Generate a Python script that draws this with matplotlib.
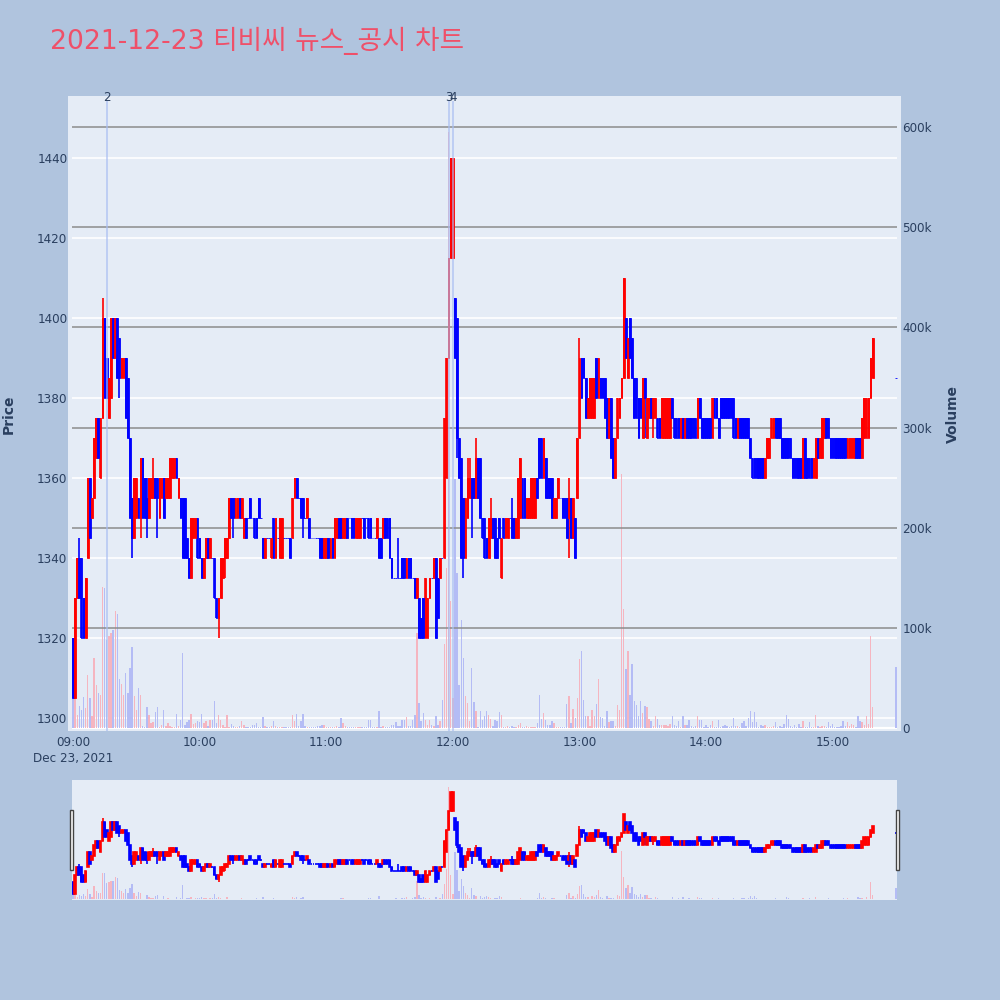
import matplotlib as mpl
mpl.use('Agg')
import matplotlib.pyplot as plt
from matplotlib.patches import Rectangle
import numpy as np

plt.rcParams['font.family'] = ['DejaVu Sans', 'Noto Sans CJK KR']

TITLE = '2021-12-23 티비씨 뉴스_공시 차트'
BG = '#B0C4DE'
PLOT_BG = '#E5ECF6'
TEXT = '#2a3f5f'
UP = '#ff0000'
DOWN = '#0000ff'

# minutes after 09:00
minutes = list(range(380)) + [390]

opens = [
    1320, 1305, 1330, 1340, 1340, 1330, 1320, 1340, 1360, 1350,
    1355, 1365, 1375, 1360, 1375, 1400, 1390, 1375, 1380, 1400,
    1390, 1400, 1395, 1385, 1385, 1390, 1385, 1370, 1355, 1345,
    1350, 1355, 1350, 1365, 1360, 1355, 1350, 1355, 1355, 1360,
    1360, 1350, 1355, 1360, 1355, 1355, 1355, 1360, 1360, 1365,
    1355, 1355, 1355, 1355, 1345, 1340, 1335, 1345, 1345, 1350,
    1345, 1340, 1335, 1340, 1345, 1340, 1340, 1340, 1330, 1325,
    1330, 1335, 1340, 1340, 1345, 1355, 1355, 1350, 1350, 1355,
    1350, 1345, 1350, 1350, 1355, 1350, 1350, 1350, 1355, 1350,
    1345, 1340, 1345, 1345, 1340, 1350, 1340, 1345, 1340, 1340,
    1345, 1345, 1345, 1345, 1345, 1355, 1360, 1355, 1355, 1355,
    1350, 1350, 1350, 1345, 1345, 1345, 1345, 1345, 1345, 1340,
    1340, 1345, 1340, 1345, 1340, 1345, 1350, 1350, 1345, 1345,
    1350, 1350, 1350, 1350, 1345, 1345, 1345, 1350, 1350, 1350,
    1350, 1350, 1345, 1345, 1345, 1345, 1345, 1345, 1350, 1350,
    1350, 1340, 1335, 1335, 1335, 1335, 1340, 1340, 1335, 1340,
    1340, 1335, 1335, 1330, 1330, 1325, 1330, 1320, 1320, 1330,
    1335, 1335, 1340, 1335, 1335, 1340, 1340, 1360, 1390, 1415,
    1415, 1405, 1400, 1370, 1365, 1355, 1340, 1350, 1355, 1360,
    1360, 1355, 1365, 1365, 1350, 1350, 1345, 1340, 1345, 1350,
    1350, 1345, 1350, 1335, 1350, 1345, 1345, 1350, 1350, 1350,
    1345, 1345, 1350, 1360, 1360, 1350, 1350, 1350, 1350, 1350,
    1360, 1370, 1370, 1360, 1365, 1360, 1360, 1360, 1350, 1350,
    1355, 1355, 1355, 1355, 1355, 1350, 1355, 1345, 1350, 1355,
    1370, 1390, 1390, 1385, 1375, 1375, 1375, 1375, 1390, 1380,
    1385, 1385, 1385, 1380, 1370, 1380, 1370, 1360, 1370, 1375,
    1380, 1385, 1400, 1385, 1400, 1395, 1385, 1385, 1380, 1380,
    1370, 1385, 1370, 1375, 1380, 1375, 1375, 1375, 1375, 1370,
    1370, 1370, 1370, 1370, 1380, 1375, 1375, 1375, 1370, 1375,
    1370, 1375, 1375, 1375, 1375, 1375, 1370, 1380, 1375, 1375,
    1375, 1375, 1375, 1370, 1380, 1380, 1375, 1380, 1380, 1380,
    1380, 1380, 1380, 1380, 1375, 1370, 1375, 1375, 1375, 1375,
    1375, 1370, 1365, 1365, 1365, 1365, 1365, 1365, 1360, 1365,
    1365, 1370, 1370, 1375, 1375, 1375, 1370, 1370, 1370, 1370,
    1370, 1365, 1365, 1365, 1365, 1365, 1360, 1370, 1365, 1365,
    1365, 1360, 1360, 1370, 1365, 1365, 1370, 1375, 1375, 1370,
    1370, 1370, 1370, 1370, 1370, 1370, 1370, 1365, 1365, 1365,
    1365, 1370, 1370, 1370, 1365, 1370, 1370, 1370, 1380, 1385,
    1385,
]

closes = [
    1305, 1330, 1340, 1330, 1320, 1320, 1335, 1360, 1345, 1355,
    1370, 1375, 1365, 1375, 1400, 1380, 1380, 1385, 1400, 1390,
    1400, 1385, 1385, 1390, 1390, 1375, 1370, 1350, 1345, 1360,
    1360, 1350, 1365, 1350, 1350, 1350, 1360, 1360, 1360, 1355,
    1355, 1360, 1360, 1350, 1360, 1360, 1365, 1365, 1365, 1360,
    1360, 1350, 1340, 1340, 1340, 1335, 1350, 1350, 1350, 1340,
    1340, 1335, 1340, 1345, 1340, 1345, 1340, 1330, 1325, 1330,
    1340, 1340, 1345, 1345, 1355, 1350, 1350, 1355, 1355, 1350,
    1355, 1350, 1345, 1350, 1350, 1350, 1345, 1345, 1350, 1350,
    1340, 1345, 1345, 1345, 1345, 1340, 1350, 1345, 1350, 1350,
    1345, 1345, 1345, 1340, 1355, 1360, 1355, 1355, 1350, 1350,
    1350, 1355, 1345, 1345, 1345, 1345, 1345, 1340, 1340, 1345,
    1345, 1340, 1345, 1340, 1350, 1350, 1345, 1345, 1350, 1350,
    1345, 1350, 1345, 1345, 1350, 1350, 1350, 1350, 1345, 1350,
    1345, 1345, 1345, 1345, 1350, 1340, 1340, 1350, 1345, 1345,
    1340, 1335, 1335, 1335, 1335, 1335, 1335, 1335, 1340, 1335,
    1335, 1335, 1330, 1335, 1320, 1320, 1320, 1335, 1330, 1335,
    1335, 1340, 1320, 1325, 1340, 1340, 1375, 1390, 1415, 1440,
    1440, 1390, 1370, 1360, 1340, 1340, 1355, 1360, 1360, 1355,
    1355, 1365, 1355, 1350, 1345, 1340, 1340, 1350, 1350, 1345,
    1340, 1340, 1345, 1345, 1345, 1350, 1350, 1350, 1345, 1345,
    1350, 1360, 1365, 1350, 1350, 1355, 1355, 1360, 1360, 1360,
    1355, 1360, 1360, 1370, 1355, 1355, 1355, 1350, 1355, 1355,
    1360, 1355, 1350, 1350, 1345, 1355, 1345, 1355, 1340, 1370,
    1390, 1380, 1385, 1375, 1380, 1385, 1385, 1385, 1380, 1390,
    1380, 1380, 1375, 1370, 1380, 1365, 1360, 1370, 1380, 1380,
    1385, 1410, 1390, 1395, 1390, 1385, 1375, 1375, 1370, 1375,
    1385, 1380, 1380, 1380, 1375, 1380, 1380, 1370, 1370, 1380,
    1380, 1380, 1380, 1380, 1375, 1370, 1370, 1370, 1375, 1370,
    1375, 1370, 1370, 1370, 1370, 1370, 1380, 1375, 1370, 1370,
    1370, 1370, 1370, 1380, 1375, 1375, 1370, 1375, 1375, 1375,
    1375, 1375, 1375, 1370, 1370, 1375, 1370, 1370, 1370, 1370,
    1370, 1365, 1360, 1360, 1360, 1360, 1360, 1360, 1365, 1370,
    1370, 1375, 1375, 1370, 1370, 1370, 1365, 1365, 1365, 1365,
    1365, 1360, 1360, 1360, 1360, 1360, 1370, 1360, 1360, 1360,
    1360, 1365, 1370, 1365, 1370, 1375, 1375, 1370, 1370, 1365,
    1365, 1365, 1365, 1365, 1365, 1365, 1365, 1370, 1370, 1370,
    1370, 1365, 1365, 1365, 1375, 1380, 1380, 1380, 1390, 1395,
    1385,
]

# wicks that stick out of the body, index -> price
wick_high = {3: 1345, 14: 1405, 22: 1395, 35: 1360, 38: 1365, 154: 1345,
             187: 1365, 188: 1365, 191: 1370, 198: 1355, 208: 1355, 235: 1360,
             240: 1395}
wick_low = {22: 1380, 28: 1340, 32: 1345, 35: 1345, 40: 1345, 69: 1320,
            72: 1335, 76: 1345, 109: 1345, 182: 1365, 185: 1335, 189: 1345,
            235: 1340, 271: 1370, 275: 1370}

# volume in thousands
volumes = [
    30, 30, 13, 22, 18, 31, 20, 53, 30, 12,
    70, 43, 35, 33, 141, 140, 88, 92, 95, 98,
    117, 114, 49, 44, 33, 55, 35, 60, 81, 32,
    18, 40, 33, 2, 1, 21, 13, 5, 6, 16,
    21, 1, 3, 18, 2, 5, 2, 1, 1, 14,
    2, 8, 75, 3, 6, 8, 14, 4, 5, 7,
    6, 14, 5, 7, 2, 8, 8, 27, 5, 13,
    8, 3, 1, 13, 1, 4, 2, 1, 1, 2,
    7, 3, 1, 1, 1, 3, 3, 5, 1, 1,
    11, 2, 1, 1, 2, 7, 2, 1, 1, 1,
    1, 1, 1, 1, 13, 7, 14, 2, 7, 14,
    2, 1, 1, 1, 1, 1, 2, 2, 3, 3,
    1, 1, 1, 1, 1, 2, 1, 10, 5, 2,
    1, 1, 1, 1, 1, 1, 1, 1, 1, 1,
    8, 8, 1, 1, 1, 17, 1, 2, 1, 1,
    1, 3, 3, 6, 2, 2, 8, 8, 11, 2,
    2, 8, 13, 95, 25, 7, 15, 8, 3, 8,
    3, 2, 12, 3, 7, 28, 84, 160, 595, 127,
    30, 249, 155, 43, 108, 70, 32, 25, 7, 60,
    26, 17, 1, 17, 8, 12, 17, 13, 9, 2,
    8, 7, 16, 13, 1, 1, 2, 1, 2, 1,
    1, 3, 5, 1, 1, 2, 1, 1, 1, 1,
    5, 33, 9, 15, 8, 3, 3, 7, 5, 1,
    1, 1, 1, 1, 24, 32, 5, 19, 10, 30,
    69, 77, 28, 12, 12, 2, 18, 12, 24, 49,
    11, 10, 2, 17, 6, 7, 7, 2, 23, 18,
    254, 119, 59, 77, 33, 64, 27, 23, 12, 27,
    15, 22, 21, 9, 7, 2, 12, 9, 3, 3,
    3, 3, 2, 4, 12, 3, 2, 7, 1, 12,
    3, 3, 8, 2, 1, 2, 12, 8, 8, 1,
    3, 1, 3, 7, 1, 1, 8, 1, 2, 3,
    2, 1, 2, 10, 2, 2, 1, 5, 7, 2,
    10, 17, 6, 16, 6, 1, 3, 2, 3, 1,
    1, 1, 2, 6, 1, 2, 1, 4, 13, 9,
    2, 1, 3, 1, 4, 1, 7, 1, 1, 6,
    1, 1, 13, 2, 1, 2, 2, 1, 6, 2,
    4, 1, 1, 1, 2, 7, 2, 6, 2, 4,
    3, 1, 12, 7, 6, 3, 12, 4, 92, 21,
    61,
]

price_ticks = [1300, 1320, 1340, 1360, 1380, 1400, 1420, 1440]
volume_ticks = [0, 100, 200, 300, 400, 500, 600]
volume_labels = ['0', '100k', '200k', '300k', '400k', '500k', '600k']
time_ticks = [0, 60, 120, 180, 240, 300, 360]
time_labels = ['09:00', '10:00', '11:00', '12:00', '13:00', '14:00', '15:00']
event_minutes = [16, 178, 180]
event_labels = ['2', '3', '4']


def draw_series(ax, ax_vol, body_edge):
    x = np.array(minutes)
    o = np.array(opens)
    c = np.array(closes)
    colors = [UP if cc > oo else DOWN for oo, cc in zip(o, c)]
    bar_colors = ['#f5b5c0' if cc > oo else '#b4bcf5' for oo, cc in zip(o, c)]

    ax_vol.bar(x, volumes, width=0.65, color=bar_colors, linewidth=0)

    hi = np.maximum(o, c).astype(float)
    lo = np.minimum(o, c).astype(float)
    for k, v in wick_high.items():
        hi[k] = v
    for k, v in wick_low.items():
        lo[k] = v
    ax.vlines(x, lo, hi, colors=colors, linewidth=1.2, zorder=3)
    ax.bar(x, np.abs(c - o), bottom=np.minimum(o, c), width=0.8, color=colors,
           edgecolor=colors, linewidth=body_edge, zorder=3)


def setup_axes(fig, rect, xlim):
    ax_vol = fig.add_axes(rect, facecolor=PLOT_BG)
    ax = ax_vol.twinx()
    ax.set_zorder(ax_vol.get_zorder() + 1)
    ax.patch.set_visible(False)
    ax.set_xlim(*xlim)
    ax_vol.set_xlim(*xlim)
    ax.set_ylim(1296.75, 1455.5)
    ax_vol.set_ylim(-3, 631)
    for a in (ax, ax_vol):
        for s in a.spines.values():
            s.set_visible(False)
    return ax, ax_vol


fig = plt.figure(figsize=(10, 10), dpi=100, facecolor=BG)

# main panel: pixel box 68..901 x 96..731
ax_price, ax_vol = setup_axes(fig, [0.068, 0.269, 0.833, 0.635], (-2.37, 392.4))

# prices on the left, volume on the right
ax_price.yaxis.tick_left()
ax_price.yaxis.set_label_position('left')
ax_vol.yaxis.tick_right()
ax_vol.yaxis.set_label_position('right')

ax_price.set_yticks(price_ticks)
ax_price.tick_params(axis='y', length=0, labelsize=8.64, labelcolor=TEXT, pad=0.5)
ax_vol.set_yticks(volume_ticks, volume_labels)
ax_vol.tick_params(axis='y', length=0, labelsize=8.64, labelcolor=TEXT, pad=1)
ax_vol.set_xticks(time_ticks, time_labels)
ax_vol.tick_params(axis='x', length=0, labelsize=8.64, labelcolor=TEXT, pad=3.5)

line_span = (-0.47, 390.5)
ax_vol.hlines(price_ticks, *line_span, colors='white', linewidth=1.2, zorder=1,
              transform=ax_price.transData)
ax_vol.hlines(volume_ticks[1:], *line_span, colors='#8c8c8c', linewidth=1.1, zorder=2.5)
ax_vol.hlines(0, *line_span, colors='white', linewidth=1.6, zorder=1)

draw_series(ax_price, ax_vol, 0.6)

for m, lab in zip(event_minutes, event_labels):
    ax_price.axvline(m, ymax=0.99, color='#a9bdf2', alpha=0.65, linewidth=1.4, zorder=4)
    ax_price.text(m, 1455.2, lab, ha='center', va='center', fontsize=8.64, color=TEXT, zorder=5)

fig.text(0.073, 0.2415, 'Dec 23, 2021', ha='center', va='center', fontsize=8.64, color=TEXT)
fig.text(0.009, 0.586, 'Price', rotation=90, ha='center', va='center', fontsize=10,
         fontweight='bold', color=TEXT)
fig.text(0.953, 0.586, 'Volume', rotation=90, ha='center', va='center', fontsize=10,
         fontweight='bold', color=TEXT)
fig.text(0.05, 0.9595, TITLE, ha='left', va='center', fontsize=19.2, color='#EF5069')

# range slider: pixel box 72..897 x 780..900
ax_s, ax_s_vol = setup_axes(fig, [0.072, 0.1, 0.825, 0.12], line_span)
ax_s.set_xticks([])
ax_s.set_yticks([])
ax_s_vol.set_xticks([])
ax_s_vol.set_yticks([])
draw_series(ax_s, ax_s_vol, 1.2)

for left in (0.0695, 0.8955):
    fig.add_artist(Rectangle((left, 0.13), 0.0035, 0.06, transform=fig.transFigure,
                             facecolor='white', edgecolor='#444444', linewidth=1.0, zorder=10))

fig.savefig('out.png', dpi=100, facecolor=BG)
